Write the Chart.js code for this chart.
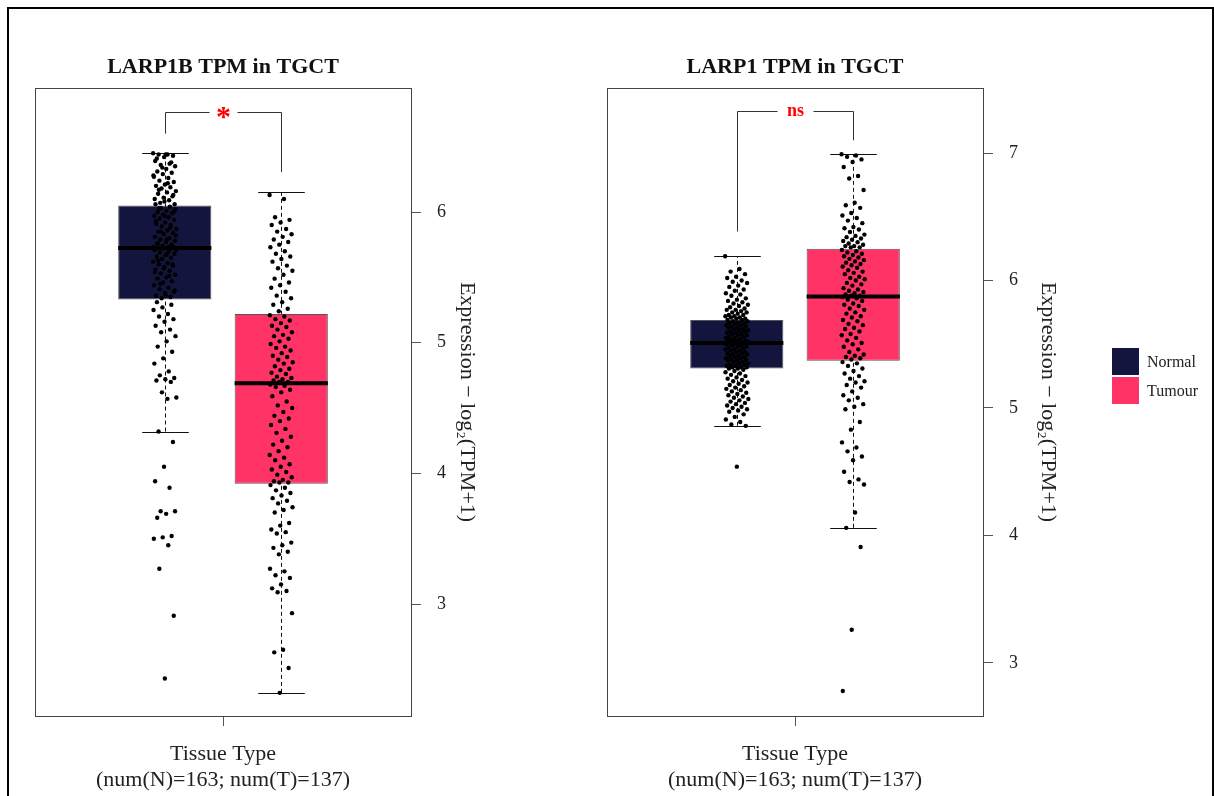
<!DOCTYPE html>
<html>
<head>
<meta charset="utf-8">
<script src="https://cdn.jsdelivr.net/npm/chart.js@4.4.1/dist/chart.umd.min.js"></script>
<style>
  body { margin: 0; background: #fff; width: 1214px; height: 796px; overflow: hidden; position: relative; }
  #frame { position: absolute; left: 7px; top: 7px; width: 1203px; height: 800px; border: 2px solid #000; }
  .panel { position: absolute; top: 0; width: 600px; height: 796px; }
  #legend { position: absolute; left: 1112px; top: 347px; font-family: 'Liberation Serif', 'DejaVu Serif', serif; font-size: 16px; color: #222; }
  .item { height: 29px; display: flex; align-items: center; }
  .sw { width: 27px; height: 27px; margin-right: 8px; }
</style>
</head>
<body>
<div id="frame"></div>
<div class="panel" style="left:0"><canvas id="larp1b" width="600" height="796"></canvas></div>
<div class="panel" style="left:572px"><canvas id="larp1" width="600" height="796"></canvas></div>
<div id="legend">
  <div class="item"><div class="sw" style="background:#13153f"></div>Normal</div>
  <div class="item"><div class="sw" style="background:#ff3366"></div>Tumour</div>
</div>
<script>
const groups = ['Normal', 'Tumour'];
const groupColors = ['#13153f', '#ff3366'];

// LARP1B box statistics (whisker low, Q1, median, Q3, whisker high)
const larp1bLow = [4.32, 2.32];
const larp1bQ1 = [5.33, 3.92];
const larp1bMed = [5.725, 4.69];
const larp1bQ3 = [6.05, 5.22];
const larp1bHigh = [6.45, 6.15];
const larp1bTicks = [3, 4, 5, 6];

// LARP1 box statistics
const larp1Low = [4.86, 4.06];
const larp1Q1 = [5.31, 5.37];
const larp1Med = [5.51, 5.875];
const larp1Q3 = [5.69, 6.25];
const larp1High = [6.19, 6.99];
const larp1Ticks = [3, 4, 5, 6, 7];

// individual samples, log2(TPM+1)
const larp1bNormal = [6.45, 6.44, 6.44, 6.43, 6.42, 6.39, 6.37, 6.36, 6.35, 6.33, 6.31, 6.30, 6.29, 6.27, 6.26, 6.24, 6.23, 6.21, 6.20, 6.19,
  6.18, 6.16, 6.15, 6.14, 6.12, 6.11, 6.10, 6.09, 6.07, 6.06, 6.44, 6.41, 6.38, 6.34, 6.28, 6.22, 6.17, 6.13, 6.08, 6.06,
  6.04, 6.03, 6.02, 6.01, 6.00, 5.99, 5.98, 5.97, 5.96, 5.95, 5.94, 5.92, 5.91, 5.90, 5.89, 5.87, 5.86, 5.85, 5.84, 5.83,
  5.81, 5.80, 5.79, 5.78, 5.77, 5.76, 5.75, 5.74, 5.73, 5.73, 6.03, 6.00, 5.97, 5.93, 5.88, 5.85, 5.82, 5.79, 5.76, 5.74,
  5.72, 5.71, 5.70, 5.69, 5.68, 5.67, 5.66, 5.65, 5.64, 5.62, 5.61, 5.60, 5.59, 5.58, 5.56, 5.55, 5.53, 5.52, 5.50, 5.49,
  5.47, 5.46, 5.44, 5.42, 5.41, 5.39, 5.38, 5.36, 5.35, 5.34, 5.71, 5.68, 5.63, 5.60, 5.57, 5.54, 5.51, 5.45, 5.40, 5.36,
  5.31, 5.29, 5.27, 5.25, 5.22, 5.20, 5.18, 5.16, 5.13, 5.10, 5.08, 5.05, 5.01, 4.97, 4.93, 4.88, 4.84, 4.78, 4.75, 4.73,
  4.72, 4.71, 4.70, 4.62, 4.58, 4.57, 4.32, 4.24, 4.05, 3.94, 3.89, 3.71, 3.71, 3.69, 3.66, 3.52, 3.51, 3.50, 3.45, 3.27,
  2.91, 2.43];
const larp1bTumour = [6.13, 6.10, 5.96, 5.94, 5.92, 5.90, 5.87, 5.85, 5.83, 5.81, 5.79, 5.77, 5.75, 5.73, 5.70, 5.68, 5.66,
  5.64, 5.62, 5.59, 5.57, 5.55, 5.52, 5.49, 5.46, 5.44, 5.42, 5.39, 5.36, 5.34, 5.31, 5.29, 5.26, 5.24,
  5.21, 5.20, 5.18, 5.17, 5.15, 5.13, 5.12, 5.10, 5.08, 5.06, 5.05, 5.03, 5.01, 4.99, 4.97, 4.96, 4.94, 4.92, 4.90, 4.89,
  4.87, 4.85, 4.84, 4.82, 4.80, 4.79, 4.77, 4.76, 4.74, 4.73, 4.72, 4.71, 4.70, 4.70,
  4.68, 4.67, 4.66, 4.64, 4.62, 4.59, 4.55, 4.52, 4.50, 4.47, 4.44, 4.42, 4.40, 4.37, 4.34, 4.31, 4.28, 4.25, 4.22, 4.20,
  4.17, 4.14, 4.12, 4.10, 4.07, 4.05, 4.03, 4.01, 3.99, 3.97, 3.95, 3.94, 3.93, 3.93,
  3.91, 3.89, 3.87, 3.85, 3.83, 3.81, 3.79, 3.77, 3.74, 3.72, 3.70, 3.62, 3.60, 3.57, 3.55, 3.54, 3.47, 3.45, 3.43, 3.40,
  3.38, 3.27, 3.25, 3.22, 3.20, 3.15, 3.12, 3.10, 3.09, 2.93, 2.65, 2.63, 2.51, 2.32];
const larp1Normal = [6.19, 6.09, 6.07, 6.05, 6.03, 6.02, 6.00, 5.99, 5.98, 5.96, 5.95, 5.93, 5.92, 5.90, 5.89, 5.88, 5.86,
  5.85, 5.84, 5.83, 5.82, 5.81, 5.80, 5.79, 5.78, 5.77, 5.77, 5.76, 5.75, 5.75, 5.74, 5.73, 5.73, 5.72, 5.72, 5.71, 5.71,
  5.70, 5.70, 5.69,
  5.69, 5.68, 5.68, 5.67, 5.67, 5.66, 5.66, 5.65, 5.65, 5.64, 5.64, 5.63, 5.63, 5.62, 5.62, 5.61, 5.61, 5.60, 5.60, 5.59,
  5.59, 5.58, 5.58, 5.57, 5.57, 5.56, 5.56, 5.55, 5.55, 5.54, 5.54, 5.53, 5.53, 5.53, 5.52, 5.52, 5.52, 5.51, 5.51, 5.51,
  5.50, 5.50, 5.49, 5.49, 5.48, 5.48, 5.47, 5.47, 5.46, 5.46, 5.45, 5.45, 5.44, 5.44, 5.43, 5.43, 5.42, 5.42, 5.41, 5.41,
  5.40, 5.40, 5.39, 5.39, 5.38, 5.38, 5.37, 5.37, 5.36, 5.36, 5.35, 5.35, 5.34, 5.34, 5.33, 5.33, 5.32, 5.32, 5.32, 5.31,
  5.31, 5.30, 5.29, 5.28, 5.27, 5.26, 5.25, 5.24, 5.23, 5.22, 5.21, 5.20, 5.19, 5.18, 5.17, 5.16, 5.15, 5.14, 5.13, 5.12,
  5.11, 5.10, 5.09, 5.08, 5.07, 5.06, 5.05, 5.04, 5.03, 5.02, 5.01, 5.00, 4.99, 4.98, 4.97, 4.95, 4.93, 4.91, 4.89, 4.87,
  4.86, 4.54];
const larp1Tumour = [6.99, 6.98, 6.97, 6.95, 6.93, 6.89, 6.82, 6.80, 6.71, 6.61, 6.59, 6.57, 6.53, 6.51, 6.49, 6.47, 6.45,
  6.42, 6.41, 6.40, 6.38, 6.36, 6.35, 6.34, 6.33, 6.32, 6.31, 6.30, 6.29, 6.28, 6.27, 6.27, 6.26, 6.26,
  6.24, 6.23, 6.22, 6.21, 6.20, 6.19, 6.18, 6.17, 6.16, 6.15, 6.14, 6.13, 6.12, 6.11, 6.10, 6.08, 6.07, 6.06, 6.05, 6.03,
  6.02, 6.01, 6.00, 5.98, 5.97, 5.96, 5.94, 5.93, 5.92, 5.91, 5.90, 5.89, 5.88, 5.88,
  5.87, 5.86, 5.85, 5.84, 5.82, 5.81, 5.80, 5.78, 5.77, 5.75, 5.74, 5.72, 5.71, 5.69, 5.68, 5.66, 5.65, 5.63, 5.62, 5.60,
  5.58, 5.57, 5.55, 5.53, 5.51, 5.50, 5.48, 5.46, 5.44, 5.42, 5.41, 5.40, 5.39, 5.38,
  5.36, 5.35, 5.33, 5.31, 5.29, 5.27, 5.25, 5.23, 5.21, 5.20, 5.18, 5.16, 5.13, 5.10, 5.08, 5.06, 5.03, 5.01, 4.99, 4.89,
  4.83, 4.73, 4.69, 4.66, 4.62, 4.59, 4.50, 4.44, 4.42, 4.40, 4.18, 4.06, 3.91, 3.26, 2.78];

const serif = "'Liberation Serif', 'DejaVu Serif', serif";
const jitter = i => (((i * 0.618034) % 1) - 0.5) * 0.2;

// whiskers, medians, plot frame and significance bracket
const boxParts = {
  id: 'boxParts',
  beforeDatasetsDraw(chart, args, o) {
    const { ctx, scales: { x, y } } = chart;
    ctx.save();
    ctx.strokeStyle = '#111';
    ctx.lineWidth = 1;
    o.low.forEach((lo, i) => {
      const px = Math.round(x.getPixelForValue(i + 1)) + 0.5;
      const half = x.getPixelForValue(i + 1.2) - x.getPixelForValue(i + 1);
      ctx.setLineDash([4, 3]);
      ctx.beginPath();
      ctx.moveTo(px, y.getPixelForValue(lo));
      ctx.lineTo(px, y.getPixelForValue(o.high[i]));
      ctx.stroke();
      ctx.setLineDash([]);
      [lo, o.high[i]].forEach(v => {
        const py = Math.round(y.getPixelForValue(v)) + 0.5;
        ctx.beginPath();
        ctx.moveTo(px - half, py);
        ctx.lineTo(px + half, py);
        ctx.stroke();
      });
    });
    ctx.restore();
  },
  afterDatasetDraw(chart, args, o) {
    if (args.index !== 0) return;
    const { ctx, scales: { x, y } } = chart;
    ctx.save();
    ctx.strokeStyle = '#000';
    ctx.lineWidth = 4;
    o.med.forEach((m, i) => {
      const half = x.getPixelForValue(i + 1.4) - x.getPixelForValue(i + 1);
      const px = x.getPixelForValue(i + 1);
      const py = y.getPixelForValue(m);
      ctx.beginPath();
      ctx.moveTo(px - half, py);
      ctx.lineTo(px + half, py);
      ctx.stroke();
    });
    ctx.restore();
  },
  afterDraw(chart, args, o) {
    const { ctx, chartArea: a, scales: { x, y } } = chart;
    ctx.save();
    ctx.strokeStyle = '#444';
    ctx.lineWidth = 1;
    ctx.strokeRect(Math.round(a.left) + 0.5, Math.round(a.top) + 0.5, Math.round(a.width), Math.round(a.height));
    // bracket
    const x1 = Math.round(x.getPixelForValue(1)) + 0.5;
    const x2 = Math.round(x.getPixelForValue(2)) + 0.5;
    const top = Math.round(y.getPixelForValue(o.bracketTop)) + 0.5;
    const mid = (x1 + x2) / 2;
    ctx.strokeStyle = '#333';
    ctx.beginPath();
    ctx.moveTo(x1, y.getPixelForValue(o.bracketLegs[0]));
    ctx.lineTo(x1, top);
    ctx.lineTo(mid - o.gap, top);
    ctx.moveTo(mid + o.gap, top);
    ctx.lineTo(x2, top);
    ctx.lineTo(x2, y.getPixelForValue(o.bracketLegs[1]));
    ctx.stroke();
    ctx.fillStyle = '#ff0000';
    ctx.font = 'bold ' + o.labelSize + 'px ' + serif;
    ctx.textAlign = 'center';
    ctx.textBaseline = 'middle';
    ctx.fillText(o.label, mid, top + o.labelShift);
    ctx.restore();
  }
};

function makePanel(id, title, normal, tumour, low, q1, med, q3, high, ticks, yMin, yMax, bracket) {
  new Chart(document.getElementById(id), {
    type: 'bar',
    data: {
      datasets: [
        {
          type: 'scatter',
          order: 0,
          data: normal.map((v, i) => ({ x: 1 + jitter(i), y: v }))
            .concat(tumour.map((v, i) => ({ x: 2 + jitter(i), y: v }))),
          pointRadius: 2.2,
          pointBackgroundColor: '#000',
          pointBorderWidth: 0
        },
        {
          type: 'bar',
          order: 1,
          label: 'box',
          data: groups.map((g, i) => ({ x: i + 1, y: [q1[i], q3[i]] })),
          backgroundColor: groupColors,
          borderColor: '#555',
          borderWidth: 1,
          borderSkipped: false,
          barPercentage: 0.8,
          categoryPercentage: 1
        }
      ]
    },
    options: {
      responsive: false,
      animation: false,
      events: [],
      layout: { padding: { left: 35, right: 89, top: 0, bottom: 0 } },
      scales: {
        x: {
          type: 'linear',
          min: -0.114,
          max: 3.114,
          offset: false,
          afterBuildTicks: s => { s.ticks = [{ value: 1.5 }]; },
          afterFit: s => { s.height = 80; },
          grid: { drawOnChartArea: false, offset: false, tickLength: 10, color: '#555' },
          border: { display: false },
          ticks: { display: false },
          title: {
            display: true,
            text: ['Tissue Type', '(num(N)=163; num(T)=137)'],
            color: '#222',
            font: { family: serif, size: 22, lineHeight: 26 / 22 },
            padding: { top: 0, bottom: 3 }
          }
        },
        y: {
          position: 'right',
          min: yMin,
          max: yMax,
          afterBuildTicks: s => { s.ticks = ticks.map(v => ({ value: v })); },
          afterFit: s => { s.width = 100; },
          grid: { drawOnChartArea: false, tickLength: 10, color: '#555' },
          border: { display: false },
          ticks: { padding: 16, color: '#222', font: { family: serif, size: 18 } },
          title: {
            display: true,
            text: 'Expression \u2212 log\u2082(TPM+1)',
            color: '#222',
            font: { family: serif, size: 22, lineHeight: 1.2 },
            padding: { top: bracket.yTitlePad, bottom: 0 }
          }
        }
      },
      plugins: {
        legend: { display: false },
        tooltip: { enabled: false },
        title: {
          display: true,
          text: title,
          fullSize: false,
          color: '#111',
          font: { family: serif, size: 22, weight: 'bold', lineHeight: 24 / 22 },
          padding: { top: 55, bottom: 9 }
        },
        boxParts: Object.assign({ low: low, med: med, high: high }, bracket)
      }
    },
    plugins: [boxParts]
  });
}

makePanel('larp1b', 'LARP1B TPM in TGCT', larp1bNormal, larp1bTumour,
  larp1bLow, larp1bQ1, larp1bMed, larp1bQ3, larp1bHigh, larp1bTicks, 2.143, 6.949,
  { bracketTop: 6.763, bracketLegs: [6.60, 6.305], label: '*', labelSize: 30, labelShift: 6, gap: 14, yTitlePad: 31 });

makePanel('larp1', 'LARP1 TPM in TGCT', larp1Normal, larp1Tumour,
  larp1Low, larp1Q1, larp1Med, larp1Q3, larp1High, larp1Ticks, 2.584, 7.51,
  { bracketTop: 7.33, bracketLegs: [6.384, 7.10], label: 'ns', labelSize: 18, labelShift: 0, gap: 18, yTitlePad: 22 });
</script>
</body>
</html>
